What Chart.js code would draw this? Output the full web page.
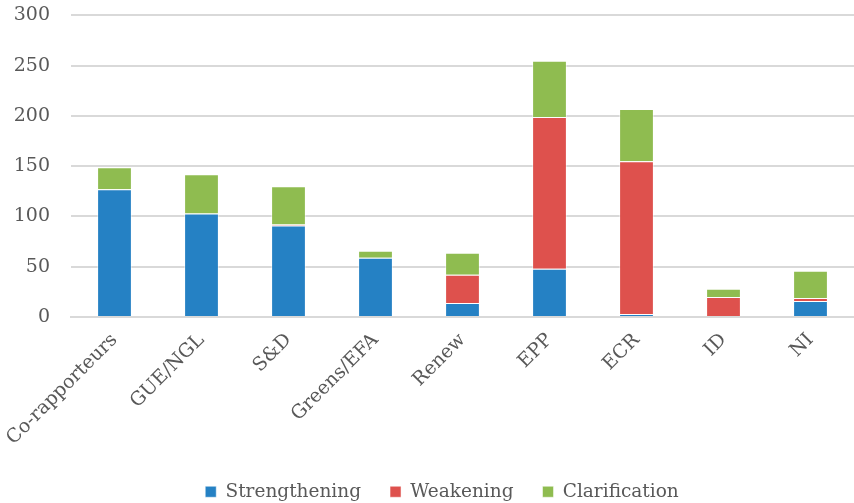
<!DOCTYPE html>
<html>
<head>
<meta charset="utf-8">
<script src="https://cdn.jsdelivr.net/npm/chart.js@4"></script>
<style>
  html, body { margin: 0; padding: 0; background: #fff; }
  #wrap { width: 854px; height: 503px; }
</style>
</head>
<body>
<div id="wrap"><canvas id="chart"></canvas></div>
<script>
const groups = ['Co-rapporteurs', 'GUE/NGL', 'S&D', 'Greens/EFA', 'Renew', 'EPP', 'ECR', 'ID', 'NI'];
const strengthening = [127, 103, 91, 59, 14, 48, 3, 0, 16];
const weakening = [0, 0, 1, 0, 28, 151, 152, 20, 3];
const clarification = [22, 39, 38, 7, 22, 56, 52, 8, 27];

Chart.defaults.font.family = "'DejaVu Serif', 'Liberation Serif', serif";
Chart.defaults.color = '#595959';

const ctx = document.getElementById('chart');

// nudge the legend a little to the right, like the original
const legendShift = {
    id: 'legendShift',
    afterLayout: (chart) => {
        if (chart.legend) {
            chart.legend.left += 26;
        }
    }
};

new Chart(ctx, {
    type: 'bar',
    data: {
        labels: groups,
        datasets: [
            {
                label: 'Strengthening',
                data: strengthening,
                backgroundColor: '#2581c4',
                borderColor: 'rgba(255,255,255,0.5)',
                borderWidth: 1
            },
            {
                label: 'Weakening',
                data: weakening,
                backgroundColor: '#de514d',
                borderColor: 'rgba(255,255,255,0.5)',
                borderWidth: 1
            },
            {
                label: 'Clarification',
                data: clarification,
                backgroundColor: '#8fbc50',
                borderColor: 'rgba(255,255,255,0.5)',
                borderWidth: 1
            }
        ]
    },
    options: {
        responsive: true,
        maintainAspectRatio: false,
        animation: false,
        layout: {
            padding: { top: 0, right: 0, left: 4, bottom: -8 }
        },
        datasets: {
            bar: {
                categoryPercentage: 1.0,
                barPercentage: 0.4
            }
        },
        scales: {
            x: {
                stacked: true,
                grid: { display: false },
                border: { color: '#d9d9d9', width: 2 },
                ticks: {
                    font: { size: 19 },
                    color: '#595959',
                    minRotation: 45,
                    maxRotation: 45,
                    padding: 4
                }
            },
            y: {
                stacked: true,
                min: 0,
                max: 300,
                afterFit: (scale) => { scale.width = 67; },
                grid: {
                    color: '#d9d9d9',
                    lineWidth: 2,
                    drawTicks: true,
                    tickLength: 17,
                    tickColor: 'rgba(0,0,0,0)'
                },
                border: { display: false },
                ticks: {
                    stepSize: 50,
                    font: { size: 19 },
                    color: '#595959',
                    padding: 4
                }
            }
        },
        plugins: {
            legend: {
                position: 'bottom',
                labels: {
                    font: { size: 18.5 },
                    color: '#595959',
                    boxWidth: 11,
                    boxHeight: 11,
                    padding: 29
                }
            },
            tooltip: { enabled: false }
        }
    },
    plugins: [legendShift]
});
</script>
</body>
</html>
